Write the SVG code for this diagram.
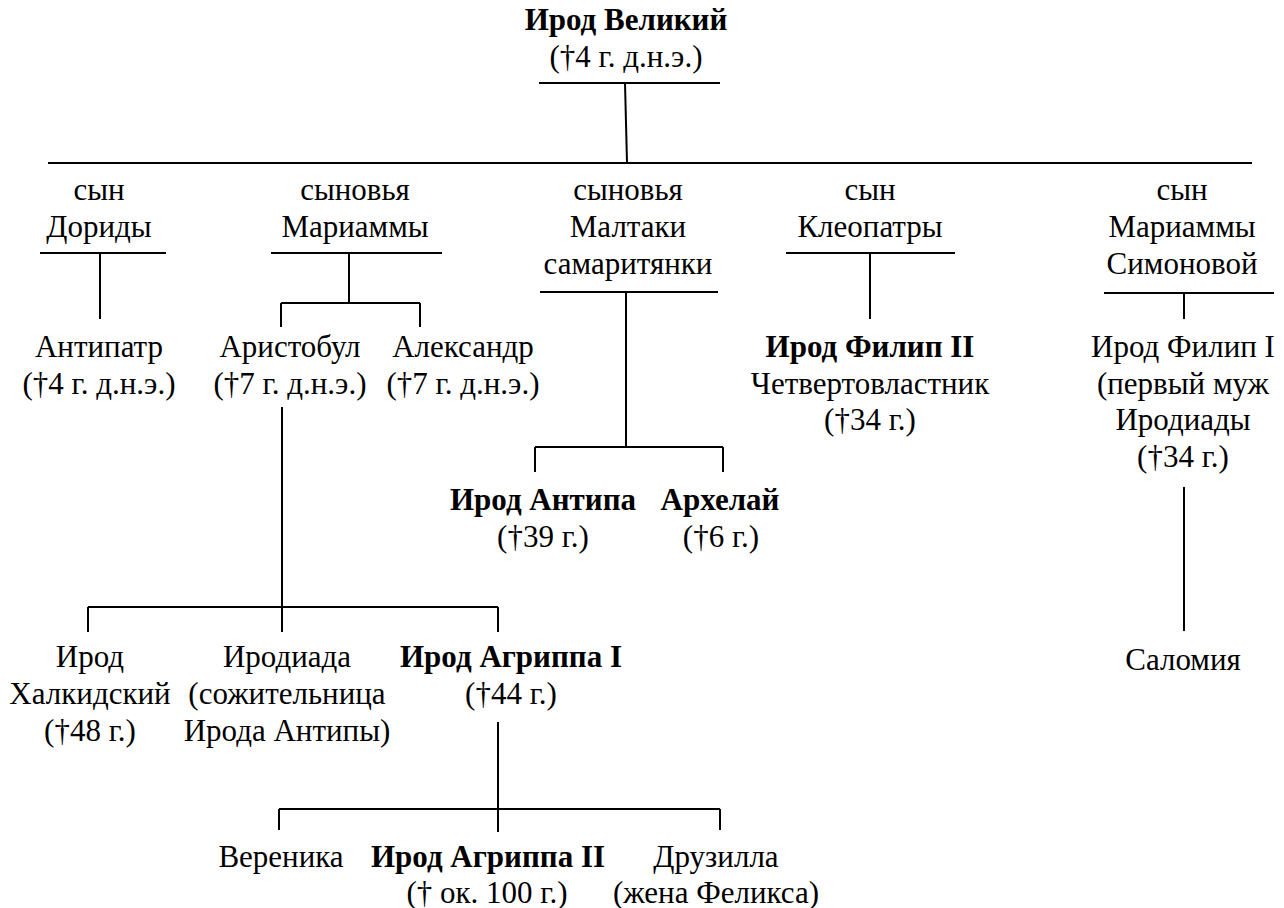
<svg xmlns="http://www.w3.org/2000/svg" width="1284" height="908" viewBox="0 0 1284 908">
<style>
text{font-family:"Liberation Serif","Times New Roman",serif;font-size:31px;fill:#000;text-anchor:middle}
.b{font-weight:bold}
.c line{stroke:#000;stroke-width:2}
</style>
<rect width="1284" height="908" fill="#fff"/>
<g class="c" id="connectors">
<line x1="539" y1="83" x2="720" y2="83"/>
<line x1="625" y1="83" x2="627" y2="163"/>
<line x1="48" y1="163" x2="1252" y2="163"/>
<line x1="40" y1="253" x2="166" y2="253"/>
<line x1="100" y1="253" x2="100" y2="319"/>
<line x1="271" y1="253" x2="442" y2="253"/>
<line x1="349" y1="253" x2="349" y2="303"/>
<line x1="281" y1="303" x2="420" y2="303"/>
<line x1="281" y1="303" x2="281" y2="327"/>
<line x1="420" y1="303" x2="420" y2="327"/>
<line x1="540" y1="292" x2="718" y2="292"/>
<line x1="626" y1="292" x2="626" y2="447"/>
<line x1="535" y1="447" x2="723" y2="447"/>
<line x1="535" y1="447" x2="535" y2="472"/>
<line x1="723" y1="447" x2="723" y2="472"/>
<line x1="786" y1="253" x2="955" y2="253"/>
<line x1="870" y1="253" x2="870" y2="319"/>
<line x1="1104" y1="293" x2="1274" y2="293"/>
<line x1="1184" y1="293" x2="1184" y2="319"/>
<line x1="282" y1="407" x2="282" y2="632"/>
<line x1="88" y1="607" x2="498" y2="607"/>
<line x1="88" y1="607" x2="88" y2="632"/>
<line x1="498" y1="607" x2="498" y2="632"/>
<line x1="1184" y1="487" x2="1184" y2="631"/>
<line x1="498" y1="722" x2="498" y2="832"/>
<line x1="279" y1="809" x2="720" y2="809"/>
<line x1="279" y1="809" x2="279" y2="830"/>
<line x1="720" y1="809" x2="720" y2="830"/>
</g>
<g id="herod-great"><text class="b" x="626" y="30">Ирод Великий</text><text x="626" y="67">(†4 г. д.н.э.)</text></g>
<g id="son-doris"><text x="99" y="200">сын</text><text x="99" y="237">Дориды</text></g>
<g id="sons-mariamne"><text x="355" y="200">сыновья</text><text x="355" y="237">Мариаммы</text></g>
<g id="sons-malthace"><text x="628" y="200">сыновья</text><text x="628" y="237">Малтаки</text><text x="628" y="274">самаритянки</text></g>
<g id="son-cleopatra"><text x="870" y="200">сын</text><text x="870" y="237">Клеопатры</text></g>
<g id="son-mariamne-simon"><text x="1182" y="200">сын</text><text x="1182" y="237">Мариаммы</text><text x="1182" y="274">Симоновой</text></g>
<g id="antipater"><text x="99" y="357">Антипатр</text><text x="99" y="394">(†4 г. д.н.э.)</text></g>
<g id="aristobulus"><text x="290" y="357">Аристобул</text><text x="290" y="394">(†7 г. д.н.э.)</text></g>
<g id="alexander"><text x="463" y="357">Александр</text><text x="463" y="394">(†7 г. д.н.э.)</text></g>
<g id="philip-ii"><text class="b" x="870" y="357">Ирод Филип II</text><text x="870" y="394">Четвертовластник</text><text x="870" y="430">(†34 г.)</text></g>
<g id="philip-i"><text x="1183" y="357">Ирод Филип I</text><text x="1183" y="394">(первый муж</text><text x="1183" y="430">Иродиады</text><text x="1183" y="467">(†34 г.)</text></g>
<g id="antipas"><text class="b" x="543" y="510">Ирод Антипа</text><text x="543" y="547">(†39 г.)</text></g>
<g id="archelaus"><text class="b" x="720" y="510">Архелай</text><text x="721" y="547">(†6 г.)</text></g>
<g id="salome"><text x="1183" y="670">Саломия</text></g>
<g id="herod-chalcis"><text x="90" y="667">Ирод</text><text x="90" y="704">Халкидский</text><text x="90" y="741">(†48 г.)</text></g>
<g id="herodias"><text x="287" y="667">Иродиада</text><text x="287" y="704">(сожительница</text><text x="287" y="741">Ирода Антипы)</text></g>
<g id="agrippa-i"><text class="b" x="511" y="667">Ирод Агриппа I</text><text x="511" y="704">(†44 г.)</text></g>
<g id="berenice"><text x="281" y="867">Вереника</text></g>
<g id="agrippa-ii"><text class="b" x="488" y="867">Ирод Агриппа II</text><text x="487" y="903">(† ок. 100 г.)</text></g>
<g id="drusilla"><text x="716" y="867">Друзилла</text><text x="716" y="903">(жена Феликса)</text></g>
</svg>
